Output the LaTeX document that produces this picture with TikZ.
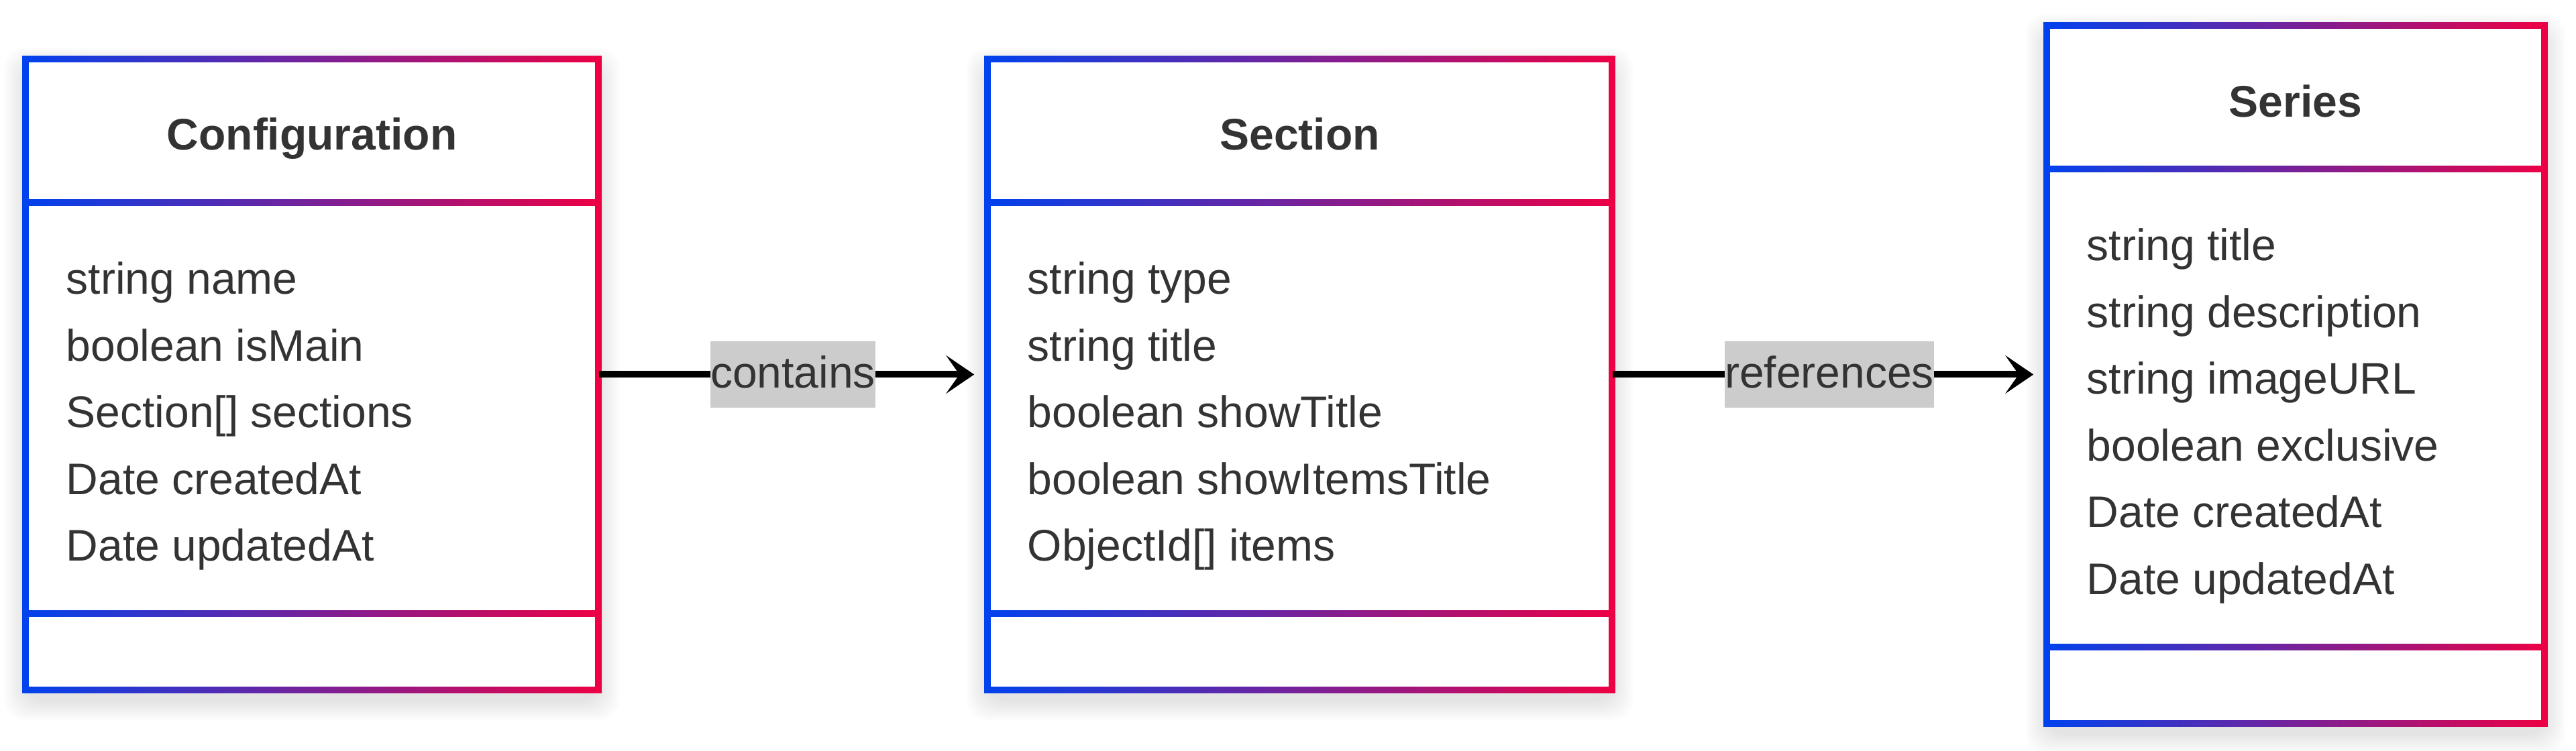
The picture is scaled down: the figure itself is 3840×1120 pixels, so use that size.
\documentclass[tikz,border=0pt]{standalone}
\usepackage{fontspec}
\setmainfont{Liberation Sans}
\usetikzlibrary{arrows.meta,fit}
\definecolor{ublue}{RGB}{0,66,238}
\definecolor{ured}{RGB}{238,0,68}
\definecolor{txt}{RGB}{51,51,51}
\definecolor{lblgray}{RGB}{204,204,204}
\tikzset{
  titletext/.style={anchor=base, inner sep=0pt, text=txt, font=\bfseries\fontsize{16.5pt}{19.8pt}\selectfont},
  attrtext/.style={anchor=base west, inner sep=0pt, text=txt, font=\fontsize{16.5pt}{19.8pt}\selectfont},
  lbl/.style={fill=lblgray, text=txt, inner xsep=0pt, inner ysep=0pt, minimum height=24.75pt, text height=10pt, text depth=0pt, font=\fontsize{16.5pt}{19.8pt}\selectfont},
  conn/.style={line width=2.5pt, black, -{Stealth[length=10.5pt,width=14.25pt,inset=5pt]}, shorten >=4.75pt}
}
% #1 name, #2 left, #3 right, #4 top, #5 div1, #6 div2, #7 bottom (px, border centre lines)
\newcommand\umlbox[7]{%
  \foreach \k in {1,...,9}{%
    \fill[black, opacity=0.012, rounded corners=8pt] (#2-\k*3.5, #4-\k*3.5+14) rectangle (#3+\k*3.5, #7+\k*3.5+14);
  }
  \fill[white] (#2,#4) rectangle (#3,#7);
  \coordinate (#1-nw) at (#2,#4);
  \coordinate (#1-se) at (#3,#7);
  \node[fit=(#1-nw)(#1-se), inner sep=0pt] (#1) {};
  \fill[ublue] (#2-4.75,#4-4.75) rectangle (#2+4.75,#7+4.75);
  \fill[ured] (#3-4.75,#4-4.75) rectangle (#3+4.75,#7+4.75);
  \foreach \yy in {#4,#5,#6,#7}{%
    \shade[left color=ublue, right color=ured] (#2-4.75,\yy-4.75) rectangle (#3+4.75,\yy+4.75);
  }
}
\begin{document}
\begin{tikzpicture}[x=0.25pt,y=-0.25pt]
\useasboundingbox (0,0) rectangle (3840,1120);
\fill[white] (0,0) rectangle (3840,1120);

\umlbox{conf}{38}{892}{88}{302}{915}{1029}
\umlbox{sec}{1472}{2403}{88}{302}{915}{1029}
\umlbox{ser}{3051}{3793}{38}{252}{965}{1079}

\node[titletext] (conft) at (465,224) {Configuration};
\node[attrtext] (c1) at (98,439) {string name};
\node[attrtext] (c2) at (98,538.5) {boolean isMain};
\node[attrtext] (c3) at (98,638) {Section[] sections};
\node[attrtext] (c4) at (98,737.5) {Date createdAt};
\node[attrtext] (c5) at (98,837) {Date updatedAt};

\node[titletext] (sect) at (1937.5,224) {Section};
\node[attrtext] (s1) at (1531,439) {string type};
\node[attrtext] (s2) at (1531,538.5) {string title};
\node[attrtext] (s3) at (1531,638) {boolean showTitle};
\node[attrtext] (s4) at (1531,737.5) {boolean showItemsTitle};
\node[attrtext] (s5) at (1531,837) {ObjectId[] items};

\node[titletext] (sert) at (3422,175) {Series};
\node[attrtext] (r1) at (3110,389) {string title};
\node[attrtext] (r2) at (3110,488.5) {string description};
\node[attrtext] (r3) at (3110,588) {string imageURL};
\node[attrtext] (r4) at (3110,687.5) {boolean exclusive};
\node[attrtext] (r5) at (3110,787) {Date createdAt};
\node[attrtext] (r6) at (3110,886.5) {Date updatedAt};

\draw[conn] (conf.east) -- (sec.west) node[midway, lbl] (l1) {contains};
\draw[conn] (sec.east) -- (ser.west) node[midway, lbl] (l2) {references};
\end{tikzpicture}
\end{document}
